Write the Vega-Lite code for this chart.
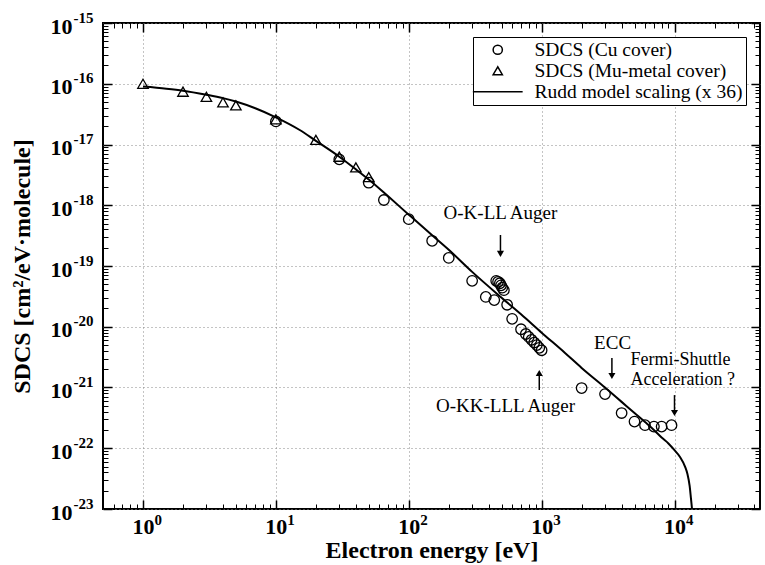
{
  "$schema": "https://vega.github.io/schema/vega-lite/v6.json",
  "autosize": "none",
  "width": 657,
  "height": 486,
  "padding": {"left": 103, "top": 23, "right": 5, "bottom": 56},
  "background": "white",
  "config": {"view": {"stroke": "black", "strokeWidth": 2}, "font": "Liberation Serif"},
  "datasets": {
    "main": [
      {"series": "Rudd model scaling (x 36)", "E": 1, "S": 9.0e-17},
      {"series": "Rudd model scaling (x 36)", "E": 1.5, "S": 8.3e-17},
      {"series": "Rudd model scaling (x 36)", "E": 2, "S": 7.7e-17},
      {"series": "Rudd model scaling (x 36)", "E": 3, "S": 6.6e-17},
      {"series": "Rudd model scaling (x 36)", "E": 4, "S": 5.8e-17},
      {"series": "Rudd model scaling (x 36)", "E": 5, "S": 5.1e-17},
      {"series": "Rudd model scaling (x 36)", "E": 7, "S": 3.95e-17},
      {"series": "Rudd model scaling (x 36)", "E": 10, "S": 2.8e-17},
      {"series": "Rudd model scaling (x 36)", "E": 15, "S": 1.75e-17},
      {"series": "Rudd model scaling (x 36)", "E": 20, "S": 1.15e-17},
      {"series": "Rudd model scaling (x 36)", "E": 30, "S": 6.3e-18},
      {"series": "Rudd model scaling (x 36)", "E": 40, "S": 3.9e-18},
      {"series": "Rudd model scaling (x 36)", "E": 50, "S": 2.65e-18},
      {"series": "Rudd model scaling (x 36)", "E": 70, "S": 1.4e-18},
      {"series": "Rudd model scaling (x 36)", "E": 100, "S": 7.0e-19},
      {"series": "Rudd model scaling (x 36)", "E": 150, "S": 3.2e-19},
      {"series": "Rudd model scaling (x 36)", "E": 200, "S": 1.85e-19},
      {"series": "Rudd model scaling (x 36)", "E": 300, "S": 8.0e-20},
      {"series": "Rudd model scaling (x 36)", "E": 500, "S": 3.0e-20},
      {"series": "Rudd model scaling (x 36)", "E": 700, "S": 1.6e-20},
      {"series": "Rudd model scaling (x 36)", "E": 1000, "S": 8.0e-21},
      {"series": "Rudd model scaling (x 36)", "E": 1500, "S": 3.7e-21},
      {"series": "Rudd model scaling (x 36)", "E": 2000, "S": 2.1e-21},
      {"series": "Rudd model scaling (x 36)", "E": 3000, "S": 1.0e-21},
      {"series": "Rudd model scaling (x 36)", "E": 4000, "S": 5.8e-22},
      {"series": "Rudd model scaling (x 36)", "E": 5000, "S": 3.8e-22},
      {"series": "Rudd model scaling (x 36)", "E": 6000, "S": 2.7e-22},
      {"series": "Rudd model scaling (x 36)", "E": 7000, "S": 2.0e-22},
      {"series": "Rudd model scaling (x 36)", "E": 8000, "S": 1.5e-22},
      {"series": "Rudd model scaling (x 36)", "E": 9000, "S": 1.2e-22},
      {"series": "Rudd model scaling (x 36)", "E": 10000, "S": 9.3e-23},
      {"series": "Rudd model scaling (x 36)", "E": 11000, "S": 7.2e-23},
      {"series": "Rudd model scaling (x 36)", "E": 12000, "S": 5.0e-23},
      {"series": "Rudd model scaling (x 36)", "E": 12500, "S": 3.8e-23},
      {"series": "Rudd model scaling (x 36)", "E": 13000, "S": 2.4e-23},
      {"series": "Rudd model scaling (x 36)", "E": 13300, "S": 1.5e-23},
      {"series": "Rudd model scaling (x 36)", "E": 13550, "S": 1.0e-23},
      {"series": "SDCS (Mu-metal cover)", "E": 1, "S": 1.0e-16},
      {"series": "SDCS (Mu-metal cover)", "E": 2, "S": 7.4e-17},
      {"series": "SDCS (Mu-metal cover)", "E": 3, "S": 6.1e-17},
      {"series": "SDCS (Mu-metal cover)", "E": 4, "S": 4.95e-17},
      {"series": "SDCS (Mu-metal cover)", "E": 5, "S": 4.4e-17},
      {"series": "SDCS (Mu-metal cover)", "E": 10, "S": 2.6e-17},
      {"series": "SDCS (Mu-metal cover)", "E": 20, "S": 1.19e-17},
      {"series": "SDCS (Mu-metal cover)", "E": 30, "S": 6.3e-18},
      {"series": "SDCS (Mu-metal cover)", "E": 40, "S": 4.2e-18},
      {"series": "SDCS (Mu-metal cover)", "E": 50, "S": 2.9e-18},
      {"series": "SDCS (Cu cover)", "E": 10, "S": 2.4e-17},
      {"series": "SDCS (Cu cover)", "E": 30, "S": 5.7e-18},
      {"series": "SDCS (Cu cover)", "E": 50, "S": 2.35e-18},
      {"series": "SDCS (Cu cover)", "E": 65, "S": 1.22e-18},
      {"series": "SDCS (Cu cover)", "E": 100, "S": 5.9e-19},
      {"series": "SDCS (Cu cover)", "E": 150, "S": 2.6e-19},
      {"series": "SDCS (Cu cover)", "E": 200, "S": 1.36e-19},
      {"series": "SDCS (Cu cover)", "E": 300, "S": 5.7e-20},
      {"series": "SDCS (Cu cover)", "E": 380, "S": 3.1e-20},
      {"series": "SDCS (Cu cover)", "E": 440, "S": 2.75e-20},
      {"series": "SDCS (Cu cover)", "E": 455, "S": 5.7e-20},
      {"series": "SDCS (Cu cover)", "E": 470, "S": 5.5e-20},
      {"series": "SDCS (Cu cover)", "E": 485, "S": 5.2e-20},
      {"series": "SDCS (Cu cover)", "E": 495, "S": 4.8e-20},
      {"series": "SDCS (Cu cover)", "E": 505, "S": 4.4e-20},
      {"series": "SDCS (Cu cover)", "E": 520, "S": 4.0e-20},
      {"series": "SDCS (Cu cover)", "E": 550, "S": 2.3e-20},
      {"series": "SDCS (Cu cover)", "E": 600, "S": 1.35e-20},
      {"series": "SDCS (Cu cover)", "E": 700, "S": 9.1e-21},
      {"series": "SDCS (Cu cover)", "E": 760, "S": 7.6e-21},
      {"series": "SDCS (Cu cover)", "E": 800, "S": 6.8e-21},
      {"series": "SDCS (Cu cover)", "E": 840, "S": 6.1e-21},
      {"series": "SDCS (Cu cover)", "E": 880, "S": 5.5e-21},
      {"series": "SDCS (Cu cover)", "E": 920, "S": 5.0e-21},
      {"series": "SDCS (Cu cover)", "E": 960, "S": 4.5e-21},
      {"series": "SDCS (Cu cover)", "E": 1000, "S": 4.1e-21},
      {"series": "SDCS (Cu cover)", "E": 2000, "S": 9.8e-22},
      {"series": "SDCS (Cu cover)", "E": 3000, "S": 7.8e-22},
      {"series": "SDCS (Cu cover)", "E": 4000, "S": 3.8e-22},
      {"series": "SDCS (Cu cover)", "E": 5000, "S": 2.75e-22},
      {"series": "SDCS (Cu cover)", "E": 6000, "S": 2.4e-22},
      {"series": "SDCS (Cu cover)", "E": 7000, "S": 2.27e-22},
      {"series": "SDCS (Cu cover)", "E": 8000, "S": 2.27e-22},
      {"series": "SDCS (Cu cover)", "E": 9500, "S": 2.4e-22}
    ],
    "ann": [
      {"label": "O-K-LL Auger", "E": 490, "S": 7.45e-19},
      {"label": "O-KK-LLL Auger", "E": 535, "S": 4.95e-22},
      {"label": "ECC", "E": 3420, "S": 5.4e-21}
    ],
    "ann2": [
      {"label": "Fermi-Shuttle\nAcceleration ?", "E": 4670, "S": 2.84e-21}
    ],
    "arrows": [
      {"E": 490, "y1": 3.24e-19, "y2": 1.77e-19, "hy": 1.58e-19, "dir": "down"},
      {"E": 960, "y1": 9.1e-22, "y2": 1.61e-21, "hy": 1.73e-21, "dir": "up"},
      {"E": 3380, "y1": 3.06e-21, "y2": 1.67e-21, "hy": 1.55e-21, "dir": "down"},
      {"E": 10000, "y1": 7.5e-22, "y2": 4.1e-22, "hy": 3.8e-22, "dir": "down"}
    ]
  },
  "resolve": {"scale": {"shape": "independent"}, "axis": {"x": "independent", "y": "independent"}},
  "layer": [
    {
      "data": {"name": "main"},
      "transform": [{"filter": "datum.series === 'Rudd model scaling (x 36)'"}],
      "mark": {"type": "line", "color": "black", "strokeWidth": 2, "clip": true, "interpolate": "monotone"},
      "encoding": {
        "x": {"field": "E", "type": "quantitative",
          "scale": {"type": "log", "domain": [0.5, 44000], "nice": false},
          "axis": {"orient": "bottom", "values": [1, 10, 100, 1000, 10000], "labelExpr": "'10'",
            "labelAlign": "center", "labelBaseline": "top", "labelFont": "Liberation Serif", "labelFontSize": 22,
            "labelFontWeight": "bold", "labelColor": "black", "labelPadding": 16, "labelFlush": false, "labelOverlap": false,
            "tickSize": -9, "tickWidth": 1.5, "tickColor": "black", "grid": true, "gridColor": "#888", "gridDash": [1, 3],
            "domain": false, "title": "Electron energy [eV]", "titleFont": "Liberation Serif", "titleFontSize": 24,
            "titleFontWeight": "bold", "titleColor": "black", "titlePadding": 1}},
        "y": {"field": "S", "type": "quantitative",
          "scale": {"type": "log", "domain": [1e-23, 1e-15], "nice": false},
          "axis": {"orient": "left", "values": [1e-23, 1e-22, 1e-21, 1e-20, 1e-19, 1e-18, 1e-17, 1e-16, 1e-15],
            "labelExpr": "'10'", "labelAlign": "right", "labelBaseline": "middle", "labelOffset": 3,
            "labelFont": "Liberation Serif", "labelFontSize": 22, "labelFontWeight": "bold", "labelColor": "black",
            "labelPadding": 40, "labelFlush": false, "labelOverlap": false,
            "tickSize": -9, "tickWidth": 1.5, "tickColor": "black", "grid": true, "gridColor": "#888", "gridDash": [1, 3],
            "domain": false, "title": "SDCS [cm²/eV·molecule]", "titleFont": "Liberation Serif", "titleFontSize": 24,
            "titleFontWeight": "bold", "titleColor": "black", "titlePadding": 16}}
      }
    },
    {
      "data": {"name": "main"},
      "transform": [{"filter": "datum.series !== 'Rudd model scaling (x 36)'"}],
      "mark": {"type": "point", "filled": false, "color": "black", "size": 110, "strokeWidth": 1.3, "opacity": 1},
      "encoding": {
        "x": {"field": "E", "type": "quantitative",
          "axis": {"orient": "bottom", "values": [1, 10, 100, 1000, 10000],
            "labelExpr": "['0','1','2','3','4'][round(log(datum.value)/LN10)]",
            "labelAlign": "left", "labelBaseline": "top", "labelOffset": 11, "labelPadding": 3,
            "labelFont": "Liberation Serif", "labelFontSize": 15, "labelFontWeight": "bold", "labelColor": "black",
            "labelFlush": false, "labelOverlap": false, "ticks": false, "tickSize": 0, "grid": false, "domain": false, "title": null}},
        "y": {"field": "S", "type": "quantitative",
          "axis": {"orient": "left", "values": [1e-23, 1e-22, 1e-21, 1e-20, 1e-19, 1e-18, 1e-17, 1e-16, 1e-15],
            "labelExpr": "'-' + round(-log(datum.value)/LN10)",
            "labelAlign": "left", "labelBaseline": "middle", "labelOffset": -6, "labelPadding": 30,
            "labelFont": "Liberation Serif", "labelFontSize": 15, "labelFontWeight": "bold", "labelColor": "black",
            "labelFlush": false, "labelOverlap": false, "ticks": false, "tickSize": 0, "grid": false, "domain": false, "title": null}},
        "shape": {"field": "series", "type": "nominal",
          "scale": {"domain": ["SDCS (Cu cover)", "SDCS (Mu-metal cover)", "Rudd model scaling (x 36)"],
            "range": ["circle", "triangle-up", "M-5.4,0H5.4"]},
          "legend": {"title": null, "orient": "top-right", "offset": 14, "strokeColor": "black", "fillColor": "white",
            "padding": 3, "labelFont": "Liberation Serif", "labelFontSize": 19.5, "labelColor": "black",
            "symbolStrokeColor": "black", "symbolStrokeWidth": 1.5, "symbolSize": 85, "symbolOffset": 12,
            "labelOffset": 27, "rowPadding": 0, "labelLimit": 400}}
      }
    },
    {
      "data": {"name": "ann"},
      "mark": {"type": "text", "font": "Liberation Serif", "fontSize": 19, "color": "black", "align": "center", "baseline": "middle"},
      "encoding": {
        "x": {"field": "E", "type": "quantitative",
          "axis": {"orient": "bottom", "values": [0.6, 0.7, 0.8, 0.9, 2, 3, 4, 5, 6, 7, 8, 9, 20, 30, 40, 50, 60, 70, 80, 90, 200, 300, 400, 500, 600, 700, 800, 900, 2000, 3000, 4000, 5000, 6000, 7000, 8000, 9000, 20000, 30000, 40000],
            "labels": false, "tickSize": -5, "tickWidth": 1, "tickColor": "black", "grid": false, "domain": false, "title": null}},
        "y": {"field": "S", "type": "quantitative",
          "axis": {"orient": "left", "values": [2e-23, 3e-23, 4e-23, 5e-23, 6e-23, 7e-23, 8e-23, 9e-23, 2e-22, 3e-22, 4e-22, 5e-22, 6e-22, 7e-22, 8e-22, 9e-22, 2e-21, 3e-21, 4e-21, 5e-21, 6e-21, 7e-21, 8e-21, 9e-21, 2e-20, 3e-20, 4e-20, 5e-20, 6e-20, 7e-20, 8e-20, 9e-20, 2e-19, 3e-19, 4e-19, 5e-19, 6e-19, 7e-19, 8e-19, 9e-19, 2e-18, 3e-18, 4e-18, 5e-18, 6e-18, 7e-18, 8e-18, 9e-18, 2e-17, 3e-17, 4e-17, 5e-17, 6e-17, 7e-17, 8e-17, 9e-17, 2e-16, 3e-16, 4e-16, 5e-16, 6e-16, 7e-16, 8e-16, 9e-16],
            "labels": false, "tickSize": -5, "tickWidth": 1, "tickColor": "black", "grid": false, "domain": false, "title": null}},
        "text": {"field": "label"}
      }
    },
    {
      "data": {"name": "ann2"},
      "mark": {"type": "text", "font": "Liberation Serif", "fontSize": 18, "color": "black", "align": "left", "baseline": "middle", "lineBreak": "\n", "lineHeight": 20},
      "encoding": {
        "x": {"field": "E", "type": "quantitative", "axis": null},
        "y": {"field": "S", "type": "quantitative", "axis": null},
        "text": {"field": "label"}
      }
    },
    {
      "data": {"name": "arrows"},
      "mark": {"type": "rule", "color": "black", "strokeWidth": 1.5},
      "encoding": {
        "x": {"field": "E", "type": "quantitative",
          "axis": {"orient": "top", "values": [1, 10, 100, 1000, 10000], "labels": false, "tickSize": -9, "tickWidth": 1.5, "tickColor": "black", "grid": false, "domain": false, "title": null}},
        "y": {"field": "y1", "type": "quantitative",
          "axis": {"orient": "right", "values": [1e-23, 1e-22, 1e-21, 1e-20, 1e-19, 1e-18, 1e-17, 1e-16, 1e-15], "labels": false, "tickSize": -9, "tickWidth": 1.5, "tickColor": "black", "grid": false, "domain": false, "title": null}},
        "y2": {"field": "y2"}
      }
    },
    {
      "data": {"name": "arrows"},
      "mark": {"type": "point", "filled": true, "color": "black", "size": 50, "opacity": 1},
      "encoding": {
        "x": {"field": "E", "type": "quantitative",
          "axis": {"orient": "top", "values": [0.6, 0.7, 0.8, 0.9, 2, 3, 4, 5, 6, 7, 8, 9, 20, 30, 40, 50, 60, 70, 80, 90, 200, 300, 400, 500, 600, 700, 800, 900, 2000, 3000, 4000, 5000, 6000, 7000, 8000, 9000, 20000, 30000, 40000],
            "labels": false, "tickSize": -5, "tickWidth": 1, "tickColor": "black", "grid": false, "domain": false, "title": null}},
        "y": {"field": "hy", "type": "quantitative",
          "axis": {"orient": "right", "values": [2e-23, 3e-23, 4e-23, 5e-23, 6e-23, 7e-23, 8e-23, 9e-23, 2e-22, 3e-22, 4e-22, 5e-22, 6e-22, 7e-22, 8e-22, 9e-22, 2e-21, 3e-21, 4e-21, 5e-21, 6e-21, 7e-21, 8e-21, 9e-21, 2e-20, 3e-20, 4e-20, 5e-20, 6e-20, 7e-20, 8e-20, 9e-20, 2e-19, 3e-19, 4e-19, 5e-19, 6e-19, 7e-19, 8e-19, 9e-19, 2e-18, 3e-18, 4e-18, 5e-18, 6e-18, 7e-18, 8e-18, 9e-18, 2e-17, 3e-17, 4e-17, 5e-17, 6e-17, 7e-17, 8e-17, 9e-17, 2e-16, 3e-16, 4e-16, 5e-16, 6e-16, 7e-16, 8e-16, 9e-16],
            "labels": false, "tickSize": -5, "tickWidth": 1, "tickColor": "black", "grid": false, "domain": false, "title": null}},
        "shape": {"field": "dir", "type": "nominal", "scale": {"domain": ["down", "up"], "range": ["triangle-down", "triangle-up"]}, "legend": null}
      }
    }
  ]
}
